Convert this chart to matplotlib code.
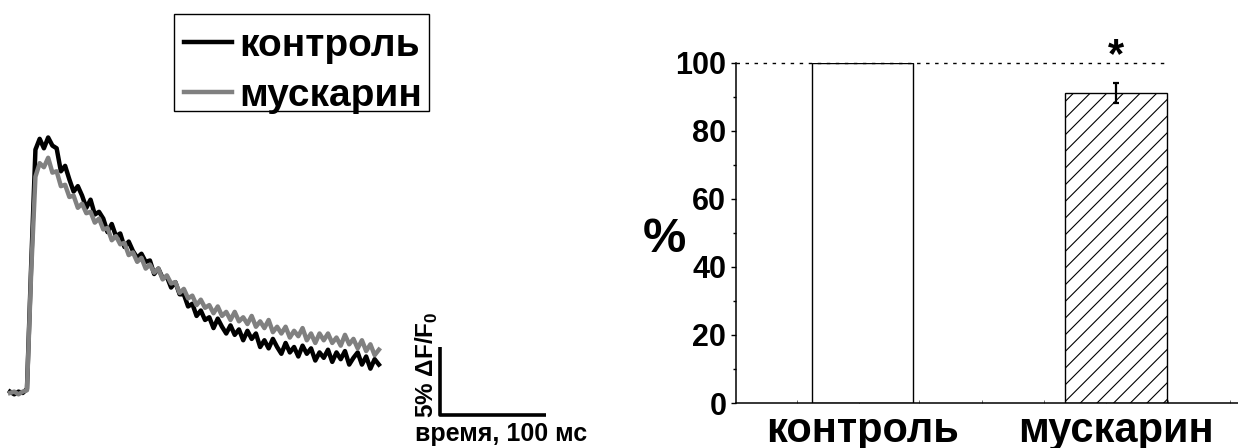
import numpy as np
import matplotlib
matplotlib.use("Agg")
import matplotlib.pyplot as plt
from matplotlib.patches import Rectangle

plt.rcParams['font.family'] = ['Liberation Sans', 'DejaVu Sans']
plt.rcParams['font.weight'] = 'bold'
plt.rcParams['axes.labelweight'] = 'bold'
plt.rcParams['mathtext.fontset'] = 'custom'
plt.rcParams['mathtext.rm'] = 'Liberation Sans:bold'
plt.rcParams['hatch.linewidth'] = 0.8

# --- Ca transients (dF/F0, %), time in ms ---
t_ms = [0, 4, 8, 12, 16, 20, 24, 28, 32, 36, 40, 44, 48, 52, 56, 60, 64, 68, 72, 76,
        80, 84, 88, 92, 96, 100, 104, 108, 112, 116, 120, 124, 128, 132, 136, 140, 144, 148, 152, 156,
        160, 164, 168, 172, 176, 180, 184, 188, 192, 196, 200, 204, 208, 212, 216, 220, 224, 228, 232, 236,
        240, 244, 248, 252, 256, 260, 264, 268, 272, 276, 280, 284, 288, 292, 296, 300, 304, 308, 312, 316,
        320, 324, 328, 332, 336, 340, 344, 348]

control = [0.1, -0.1, 0.1, 0.0, 0.3, 9.5, 18.0, 18.8, 18.1, 18.9, 18.3, 18.1, 16.4, 16.8, 15.8, 14.9, 15.3, 14.6, 13.7, 14.3,
           13.2, 13.4, 12.9, 11.9, 12.5, 11.6, 11.8, 10.8, 11.2, 10.5, 10.0, 10.3, 9.7, 9.8, 8.8, 9.2, 8.5, 8.6, 7.8, 8.2,
           7.3, 7.3, 6.4, 6.6, 5.7, 6.1, 5.4, 5.6, 4.8, 5.5, 4.9, 4.4, 5.0, 4.3, 4.7, 3.9, 4.6, 4.0, 4.4, 3.4,
           3.9, 3.3, 4.0, 3.4, 2.9, 3.7, 3.0, 3.4, 2.7, 3.5, 2.9, 3.3, 2.4, 3.0, 2.6, 3.2, 2.3, 3.0, 2.5, 3.1,
           2.1, 2.6, 3.0, 2.1, 2.7, 1.8, 2.5, 2.1]

muscarine = [0.0, 0.1, -0.1, 0.1, 0.2, 9.0, 16.0, 17.0, 16.7, 17.4, 16.3, 16.4, 15.3, 15.4, 14.5, 14.6, 13.7, 14.0, 13.3, 13.4,
             12.6, 12.9, 12.1, 12.2, 11.3, 11.6, 11.0, 11.1, 10.2, 10.4, 9.7, 10.0, 9.2, 9.5, 8.9, 9.2, 8.4, 8.7, 8.1, 8.2,
             7.4, 7.7, 7.0, 7.2, 6.5, 6.9, 6.3, 6.5, 5.9, 6.4, 5.7, 6.0, 5.4, 6.0, 5.3, 5.6, 5.1, 5.7, 4.9, 5.3,
             4.8, 5.4, 4.5, 4.9, 4.4, 4.9, 4.1, 4.6, 4.2, 4.8, 3.9, 4.4, 3.7, 4.4, 3.9, 4.4, 3.7, 4.1, 3.5, 4.3,
             3.6, 4.0, 3.3, 3.9, 3.1, 3.6, 2.8, 3.2]

trace_labels = ['контроль', 'мускарин']

# --- summary bars (% of control) ---
groups = ['контроль', 'мускарин']
means = [100, 91.2]
sem_musc = 3.0

fig = plt.figure(figsize=(12.38, 4.48), dpi=100)

# left panel: traces with scale bars
ax1 = fig.add_axes([0, 0, 600 / 1238, 1])
ax1.plot(t_ms, control, color='black', lw=3.2, label=trace_labels[0])
ax1.plot(t_ms, muscarine, color='#808080', lw=3.2, label=trace_labels[1])
ax1.set_xlim(-9.43, 556.6)
ax1.set_ylim(-4.07, 29.07)
ax1.axis('off')

# scale bar 100 ms / 5 %
x0, y0 = 406, -1.6
ax1.plot([x0, x0, x0 + 100], [y0 + 5, y0, y0], color='black', lw=2.6, solid_capstyle='butt')
ax1.text(x0 + 57, y0 - 1.4, 'время, 100 мс', fontsize=18, ha='center', va='center')
ax1.text(x0 - 12.8, y0 + 3.7, r'5% ΔF/F$_\mathrm{0}$', fontsize=17.5, rotation=90,
         ha='center', va='center')

leg = ax1.legend(loc='upper left', bbox_to_anchor=(184 / 1238, 1 - 28 / 448),
                 bbox_transform=fig.transFigure, fontsize=28, frameon=False,
                 handlelength=1.23, handletextpad=0.2, labelspacing=0.36,
                 borderpad=0, borderaxespad=0)
# legend frame (drawn separately, text sits low in the box like the original)
fig.patches.append(Rectangle((174 / 1238, (448 - 111) / 448), 255 / 1238, 97 / 448,
                             transform=fig.transFigure, fill=False,
                             edgecolor='black', lw=1.0))

# right panel: bar chart
ax2 = fig.add_axes([735.7 / 1238, 45 / 448, 507 / 1238, 340 / 448])
xpos = np.arange(1, len(groups) + 1)
width = 0.4
ax2.bar(xpos[0], means[0], width=width, color='white', edgecolor='black', lw=1.0, zorder=2)
ax2.bar(xpos[1], means[1], width=width, color='white', edgecolor='black', lw=1.0,
        hatch='//', zorder=2)
ax2.errorbar(xpos[1], means[1], yerr=sem_musc, color='black', lw=1.6, capsize=2.5,
             capthick=1.6, zorder=3, clip_on=False)
ax2.hlines(means[0], 0.5, xpos[1] + width / 2, colors='black', lw=1.0,
           linestyles=(0, (2.5, 4)), zorder=4, clip_on=False)
ax2.text(xpos[1], 98.8, '*', fontsize=30, ha='center', va='baseline')

ax2.set_xlim(0.5, 2.5)
ax2.set_ylim(0, 100)
ax2.spines['top'].set_visible(False)
ax2.spines['right'].set_visible(False)
ax2.spines['left'].set_linewidth(1.1)
ax2.spines['bottom'].set_linewidth(1.1)

ax2.set_yticks([0, 20, 40, 60, 80, 100])
ax2.set_yticks([10, 30, 50, 70, 90], minor=True)
ax2.tick_params(axis='y', which='major', direction='out', length=3.6, width=1.0,
                labelsize=22, pad=3.2)
ax2.tick_params(axis='y', which='minor', direction='out', length=2.2, width=1.0)

ax2.set_xticks(xpos)
ax2.set_xticklabels(groups)
ax2.set_xticks([0.74, 0.985, 1.225, 1.47, 1.715, 1.96, 2.205, 2.45], minor=True)
ax2.tick_params(axis='x', which='major', length=0, labelsize=30, pad=6)
ax2.tick_params(axis='x', which='minor', direction='in', length=2.2, width=0.6,
                color='#555555')

ax2.set_ylabel('%', fontsize=35, fontweight='bold', rotation=0, va='center', ha='center')
ax2.yaxis.set_label_coords(-0.1414, (403 - 239) / 340)

fig.savefig('out.png', dpi=100)
